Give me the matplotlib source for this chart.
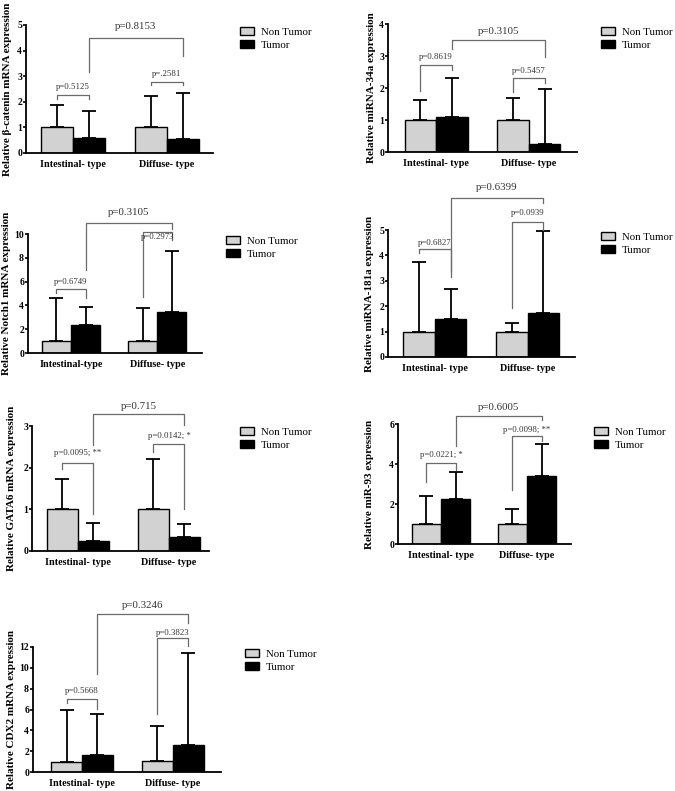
import matplotlib
matplotlib.use("Agg")
import matplotlib.pyplot as plt
from matplotlib.patches import Patch

plt.rcParams['font.family'] = ['Liberation Serif', 'DejaVu Serif']

# ---------------- data ----------------
legend_labels = ['Non Tumor', 'Tumor']
groups = ['Intestinal- type', 'Diffuse- type']
groups_notch = ['Intestinal-type', 'Diffuse- type']

bcat_nt = [1.0, 1.0]
bcat_t = [0.58, 0.53]
bcat_sd_nt = [0.87, 1.22]
bcat_sd_t = [1.05, 1.80]
bcat_p = ['p=0.5125', 'p=.2581', 'p=0.8153']

mir34_nt = [1.0, 1.0]
mir34_t = [1.08, 0.24]
mir34_sd_nt = [0.62, 0.70]
mir34_sd_t = [1.24, 1.72]
mir34_p = ['p=0.8619', 'p=0.5457', 'p=0.3105']

notch_nt = [1.0, 1.0]
notch_t = [2.34, 3.46]
notch_sd_nt = [3.59, 2.75]
notch_sd_t = [1.49, 5.13]
notch_p = ['p=0.6749', 'p=0.2973', 'p=0.3105']

mir181_nt = [1.0, 1.0]
mir181_t = [1.51, 1.75]
mir181_sd_nt = [2.75, 0.34]
mir181_sd_t = [1.15, 3.21]
mir181_p = ['p=0.6827', 'p=0.0939', 'p=0.6399']

gata_nt = [1.0, 1.0]
gata_t = [0.24, 0.34]
gata_sd_nt = [0.72, 1.22]
gata_sd_t = [0.44, 0.32]
gata_p = ['p=0.0095; **', 'p=0.0142; *', 'p=0.715']

mir93_nt = [1.0, 1.0]
mir93_t = [2.27, 3.38]
mir93_sd_nt = [1.42, 0.77]
mir93_sd_t = [1.31, 1.62]
mir93_p = ['p=0.0221; *', 'p=0.0098; **', 'p=0.6005']

cdx_nt = [1.0, 1.05]
cdx_t = [1.66, 2.56]
cdx_sd_nt = [4.96, 3.40]
cdx_sd_t = [3.94, 8.86]
cdx_p = ['p=0.5668', 'p=0.3823', 'p=0.3246']

# ---------------- layout ----------------
W, H = 675, 791
fig = plt.figure(figsize=(W / 100, H / 100), dpi=100)

def px_axes(x0, x1, ytop, ybot):
    return fig.add_axes([x0 / W, 1 - ybot / H, (x1 - x0) / W, (ybot - ytop) / H])

BW = 0.34
GRAY = '#d2d2d2'
BR = '#6a6a6a'

# bracket geometry: (y_top, y_left_end, y_right_end, y_text) for intra-int, intra-diff, inter
panels = [
    dict(px=(26, 213, 25, 153), xl=(-0.5, 1.49), ymax=5, step=1, ylab='Relative β-catenin mRNA expression',
         labx=8, nt=bcat_nt, t=bcat_t, snt=bcat_sd_nt, st=bcat_sd_t, p=bcat_p, cats=groups,
         br=[(2.25, 2.1, 2.1, 2.57), (2.79, 2.66, 2.66, 3.09), (4.48, 3.18, 3.77, 4.96)],
         leg=(240, 27)),
    dict(px=(388, 577, 24, 152), xl=(-0.52, 1.52), ymax=4, step=1, ylab='Relative miRNA-34a expression',
         labx=372, nt=mir34_nt, t=mir34_t, snt=mir34_sd_nt, st=mir34_sd_t, p=mir34_p, cats=groups,
         br=[(2.72, 1.92, 2.57, 2.96), (2.30, 1.88, 2.15, 2.53), (3.49, 3.21, 2.96, 3.77)],
         leg=(601, 27)),
    dict(px=(28, 202, 234, 353), xl=(-0.5, 1.52), ymax=10, step=2, ylab='Relative Notch1 mRNA expression',
         labx=7, nt=notch_nt, t=notch_t, snt=notch_sd_nt, st=notch_sd_t, p=notch_p, cats=groups_notch,
         br=[(5.38, 5.07, 4.59, 6.0), (10.14, 4.68, 9.52, 9.75), (10.93, 6.99, 10.42, 11.83)],
         leg=(226, 236)),
    dict(px=(388, 575, 230, 357), xl=(-0.505, 1.51), ymax=5, step=1, ylab='Relative miRNA-181a expression',
         labx=370, nt=mir181_nt, t=mir181_t, snt=mir181_sd_nt, st=mir181_sd_t, p=mir181_p, cats=groups,
         br=[(4.26, 4.08, 3.13, 4.5), (5.33, 1.91, 5.0, 5.66), (6.25, 3.37, 6.05, 6.66)],
         leg=(601, 232)),
    dict(px=(32, 209, 426, 551), xl=(-0.505, 1.44), ymax=3, step=1, ylab='Relative GATA6 mRNA expression',
         labx=12, nt=gata_nt, t=gata_t, snt=gata_sd_nt, st=gata_sd_t, p=gata_p, cats=groups,
         br=[(2.12, 1.98, 0.9, 2.36), (2.58, 2.38, 1.02, 2.76), (3.28, 2.54, 3.02, 3.46)],
         leg=(240, 427)),
    dict(px=(398, 571, 424, 544), xl=(-0.5, 1.51), ymax=6, step=2, ylab='Relative miR-93 expression',
         labx=370, nt=mir93_nt, t=mir93_t, snt=mir93_sd_nt, st=mir93_sd_t, p=mir93_p, cats=groups,
         br=[(4.05, 3.08, 3.68, 4.43), (5.38, 2.71, 5.13, 5.72), (6.42, 4.92, 6.22, 6.85)],
         leg=(594, 427)),
    dict(px=(33, 221, 647, 772), xl=(-0.54, 1.53), ymax=12, step=2, ylab='Relative CDX2 mRNA expression',
         labx=12, nt=cdx_nt, t=cdx_t, snt=cdx_sd_nt, st=cdx_sd_t, p=cdx_p, cats=groups,
         br=[(6.98, 6.62, 6.08, 7.74), (12.86, 5.6, 12.06, 13.38), (15.14, 9.44, 14.3, 16.0)],
         leg=(245, 649)),
]

for P in panels:
    x0, x1, ytop, ybot = P['px']
    ax = px_axes(x0, x1, ytop, ybot)
    xs = [0, 1]
    xnt = [x - BW / 2 for x in xs]
    xt = [x + BW / 2 for x in xs]
    ax.errorbar(xnt, P['nt'], yerr=[[0, 0], P['snt']], fmt='none', ecolor='black',
                elinewidth=1.3, capsize=5, capthick=1.3, zorder=1)
    ax.errorbar(xt, P['t'], yerr=[[0, 0], P['st']], fmt='none', ecolor='black',
                elinewidth=1.3, capsize=5, capthick=1.3, zorder=1)
    ax.bar(xnt, P['nt'], width=BW, color=GRAY, edgecolor='black', linewidth=1.0, zorder=2)
    ax.bar(xt, P['t'], width=BW, color='black', edgecolor='black', linewidth=1.0, zorder=2)

    ax.set_xlim(*P['xl'])
    ax.set_ylim(0, P['ymax'])
    ax.set_yticks(range(0, P['ymax'] + 1, P['step']))
    ax.set_xticks(xs)
    ax.set_xticklabels(P['cats'], fontweight='bold', fontsize=7.3)
    ax.tick_params(axis='x', length=0, pad=5)
    ax.tick_params(axis='y', length=2.2, width=1.2, pad=0.6, labelsize=7)
    for lb in ax.get_yticklabels():
        lb.set_fontweight('bold')
    for s in ['top', 'right']:
        ax.spines[s].set_visible(False)
    for s in ['left', 'bottom']:
        ax.spines[s].set_linewidth(1.3)

    # brackets
    pairs = [(xnt[0], xt[0]), (xnt[1], xt[1]), (xt[0], xt[1])]
    for i, ((a, b), (yt, yl, yr, ytx)) in enumerate(zip(pairs, P['br'])):
        ax.plot([a, a, b, b], [yl, yt, yt, yr], color=BR, lw=0.9, clip_on=False, zorder=3)
        fs = 7.8 if i == 2 else 6.3
        ax.text((a + b) / 2, ytx, P['p'][i], ha='center', va='center', fontsize=fs,
                color='#333333', clip_on=False)

    # y label
    fig.text(P['labx'] / W, 1 - (ytop + ybot) / 2 / H, P['ylab'], rotation=90,
             ha='center', va='center', fontsize=8, fontweight='bold')

    # legend
    lx, ly = P['leg']
    handles = [Patch(facecolor=GRAY, edgecolor='black', linewidth=1.0),
               Patch(facecolor='black', edgecolor='black', linewidth=1.0)]
    fig.legend(handles, legend_labels, loc='upper left', bbox_to_anchor=(lx / W, 1 - ly / H),
               frameon=False, fontsize=7.8, handlelength=1.3, handleheight=0.75,
               handletextpad=0.6, labelspacing=0.3, borderaxespad=0, borderpad=0)

fig.savefig('out.png', dpi=100, facecolor='white')
